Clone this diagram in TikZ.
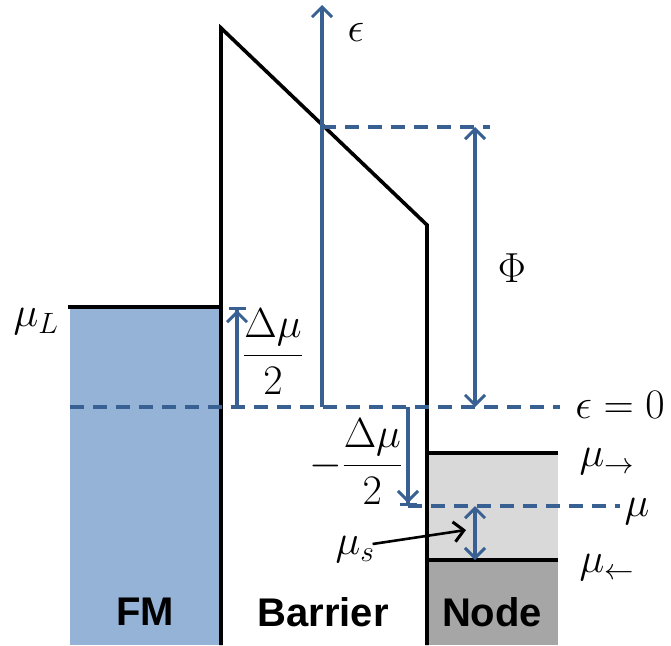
\RequirePackage{fix-cm}
\documentclass[tikz,border=0pt]{standalone}
\usepackage{amsmath}
\usepackage{fontspec}
\newfontfamily\regionfont{Liberation Sans}
\usepackage{tikz}
\usetikzlibrary{arrows.meta, positioning}

\definecolor{fmblue}{RGB}{149,179,215}
\definecolor{nodelight}{RGB}{217,217,217}
\definecolor{nodedark}{RGB}{166,166,166}
\definecolor{axisblue}{RGB}{56,96,146}

\tikzset{
  edge/.style={line width=3.6pt, black},
  axis/.style={line width=3.2pt, axisblue},
  dashlevel/.style={line width=3.2pt, axisblue, dash pattern=on 14pt off 9pt},
  barend/.style={-{Straight Barb[length=10pt,width=20pt,line width=3pt]Bar[width=17pt,line width=3pt]}},
  mathlabel/.style={font=\fontsize{42}{46}\selectfont, inner sep=0pt},
  region/.style={font=\regionfont\bfseries\fontsize{40}{44}\selectfont, inner sep=0pt}
}

\begin{document}
\begin{tikzpicture}[x=1pt,y=-1pt,>={Straight Barb[length=10pt,width=20pt,line width=3pt]}]
  \useasboundingbox (0,0) rectangle (671,645);

  % filled regions
  \fill[fmblue] (70,307) rectangle (221,645);
  \fill[nodelight] (427,453) rectangle (558,560);
  \fill[nodedark] (427,560) rectangle (558,645);

  % key points
  \coordinate (fmL) at (68,307);
  \coordinate (fmR) at (221,307);
  \coordinate (barBL) at (221,645);
  \coordinate (barTL) at (221,28);
  \coordinate (barTR) at (427,225);
  \coordinate (barBR) at (427,645);
  \coordinate (upL) at (427,453);
  \coordinate (upR) at (558,453);
  \coordinate (dnL) at (427,560);
  \coordinate (dnR) at (558,560);
  \coordinate (zero) at (322,407);
  \coordinate (etop) at (322,5);
  \coordinate (phiT) at (475,127);
  \coordinate (phiB) at (475,407);
  \coordinate (muA) at (475,506);
  \coordinate (muB) at (475,560);

  % band edges
  \draw[edge] (fmL) -- (fmR);
  \draw[edge] (barBL) -- (barTL) -- (barTR) -- (barBR);
  \draw[edge] (upL) -- (upR);
  \draw[edge] (dnL) -- (dnR);

  % levels
  \draw[dashlevel] (70,407) -- (560,407);
  \draw[dashlevel] (zero |- phiT) -- (490,127);
  \draw[dashlevel] (408,506) -- (620,506);

  % arrows
  \draw[axis,->] (zero) -- (etop);
  \draw[axis,<->] (phiT) -- (phiB);
  \draw[axis,barend] (237,407) -- (237,307);
  \draw[axis,barend] (408,407) -- (408,506);
  \draw[axis,<->] (muA) -- (muB);

  % labels
  \node[mathlabel] (eps) at (356,32) {$\epsilon$};
  \node[mathlabel] (phi) at (512,268) {$\Phi$};
  \node[mathlabel] (zerolab) at (620,405) {$\epsilon = 0$};
  \node[mathlabel] (muLlab) at (36,322) {$\mu_L$};
  \node[mathlabel] (dmup) at (273,352) {$\dfrac{\Delta\mu}{2}$};
  \node[mathlabel] (dmdn) at (356,462) {$-\dfrac{\Delta\mu}{2}$};
  \node[mathlabel] (murt) at (607,462) {$\mu_{\rightarrow}$};
  \node[mathlabel] (mulf) at (607,568) {$\mu_{\leftarrow}$};
  \node[mathlabel] (mulab) at (637,512) {$\mu$};
  \node[mathlabel] (muslab) at (355,550) {$\mu_s$};
  \coordinate (mustip) at (466,530);
  \draw[line width=2.6pt,->] (muslab.east) ++(-2,-6) -- (mustip);

  \node[region] (fm) at (145,612) {FM};
  \node[region] (barrier) at (323,612) {Barrier};
  \node[region] (node) at (492,612) {Node};
\end{tikzpicture}
\end{document}
